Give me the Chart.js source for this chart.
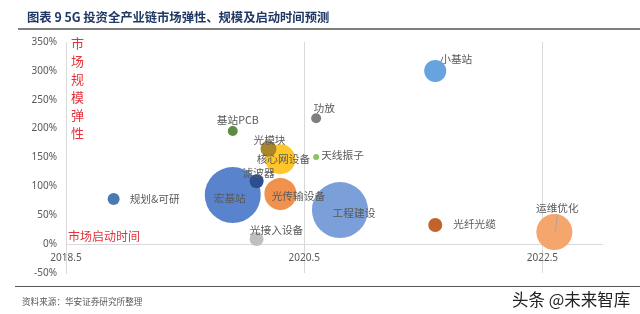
<!DOCTYPE html>
<html>
<head>
<meta charset="utf-8">
<script src="https://cdn.jsdelivr.net/npm/chart.js@4"></script>
<style>
  html,body{margin:0;padding:0;background:#fff;}
  #wrap{position:relative;width:640px;height:314px;overflow:hidden;font-family:"Noto Sans CJK SC","Noto Sans",sans-serif;}
  canvas{position:absolute;left:0;top:0;}
  .abs{position:absolute;white-space:nowrap;}
</style>
</head>
<body>
<div id="wrap">
  <canvas id="c" width="640" height="314"></canvas>
  <div class="abs" style="left:27px;top:8px;font-size:12.3px;font-weight:bold;color:#1F3864;">图表 9 5G 投资全产业链市场弹性、规模及启动时间预测</div>
  <div class="abs" style="left:18px;top:28px;width:622px;height:2px;background:#7f7f7f;"></div>
  <div class="abs" style="left:71px;top:34px;font-size:13px;line-height:18px;color:#E5323B;white-space:normal;width:14px;">市<br>场<br>规<br>模<br>弹<br>性</div>
  <div class="abs" style="left:68px;top:227px;font-size:12px;color:#E5323B;">市场启动时间</div>
  <div class="abs" style="left:15px;top:286px;width:625px;height:1px;background:#595959;"></div>
  <div class="abs" style="left:22px;top:295px;font-size:8.6px;color:#595959;">资料来源：华安证券研究所整理</div>
  <div class="abs" style="left:512px;top:287px;font-size:16.5px;color:#222;">头条 @未来智库</div>
</div>
<script>
// ---- data ----
const categories = ['宏基站','工程建设','核心网设备','光模块','光传输设备','滤波器','规划&可研','基站PCB','天线振子','功放','光接入设备','小基站','光纤光缆','运维优化'];
const startTime  = [2019.9, 2020.8, 2020.3, 2020.2, 2020.3, 2020.1, 2018.9, 2019.9, 2020.6, 2020.6, 2020.1, 2021.6, 2021.6, 2022.6];
const elasticity = [85, 59, 147, 165, 87, 109, 78, 196, 151, 218, 9, 300, 33, 21];
const scaleSize  = [28, 28, 15, 8, 16, 7, 6, 5, 3, 5, 7, 11, 7, 18];
const xTicks = [2018.5, 2020.5, 2022.5];
const yTicks = [-50, 0, 50, 100, 150, 200, 250, 300, 350];

// ---- styles ----
const colors = ['#5A83CD','#7B9FD9','#FFC62A','#A8872B','#F0914D','#2D4E91','#4A79B0','#5E8B45','#8CC168','#7F7F7F','#BFBFBF','#67A3DE','#C0642B','#F5A66D'];
const labelOffsets = [
  [-3,3,'center'],[14,3,'center'],[3,0,'center'],[1,-9,'center'],[18,2,'center'],[2,-8,'center'],
  [16,0,'left'],[5,-11,'center'],[5,-2,'left'],[8,-10,'center'],[20,-9,'center'],[21,-12,'center'],
  [18,-1,'left'],[3,-24,'center']
];

const points = categories.map((c,i)=>({x:startTime[i], y:elasticity[i], r:scaleSize[i]}));

const labelPlugin = {
  id:'bubbleLabels',
  afterDatasetsDraw(chart){
    const ctx = chart.ctx;
    const meta = chart.getDatasetMeta(0);
    ctx.save();
    ctx.font = '10.7px "Noto Sans CJK SC", sans-serif';
    ctx.fillStyle = '#595959';
    ctx.textBaseline = 'middle';
    meta.data.forEach((el,i)=>{
      const [dx,dy,al] = labelOffsets[i];
      if (categories[i]==='运维优化'){
        ctx.strokeStyle = '#A6A6A6'; ctx.lineWidth = 1;
        ctx.beginPath(); ctx.moveTo(el.x+3, el.y+dy+7); ctx.lineTo(el.x+1, el.y); ctx.stroke();
      }
      ctx.textAlign = al;
      ctx.fillText(categories[i], el.x+dx, el.y+dy);
    });
    ctx.restore();
  }
};

new Chart(document.getElementById('c'), {
  type:'bubble',
  data:{datasets:[{data:points, backgroundColor:colors, borderColor:colors, borderWidth:0, hoverRadius:0}]},
  options:{
    responsive:false, animation:false,
    layout:{padding:{left:0, right:38, top:42, bottom:41}},
    plugins:{legend:{display:false}, tooltip:{enabled:false}},
    scales:{
      x:{
        type:'linear', position:{y:0}, min:2018.5, max:2023,
        afterBuildTicks(s){ s.ticks = xTicks.map(v=>({value:v})); },
        afterFit(s){ s.height = 0; },
        grid:{drawTicks:false, color:(c)=> c.tick && c.tick.value===2018.5 ? 'rgba(0,0,0,0)' : '#D9D9D9', lineWidth:1},
        border:{display:true, color:'#D9D9D9'},
        ticks:{padding:8, color:'#595959', font:{size:10, family:'"Noto Sans", sans-serif'}, callback:(v)=>String(v)}
      },
      y:{
        type:'linear', position:'left', min:-50, max:350,
        afterBuildTicks(s){ s.ticks = yTicks.map(v=>({value:v})); },
        afterFit(s){ s.width = 66; },
        grid:{display:false, drawTicks:false},
        border:{display:true, color:'#D9D9D9'},
        ticks:{padding:9, color:'#595959', font:{size:10, family:'"Noto Sans", sans-serif'}, callback:(v)=>v+'%'}
      }
    }
  },
  plugins:[labelPlugin]
});
</script>
</body>
</html>
